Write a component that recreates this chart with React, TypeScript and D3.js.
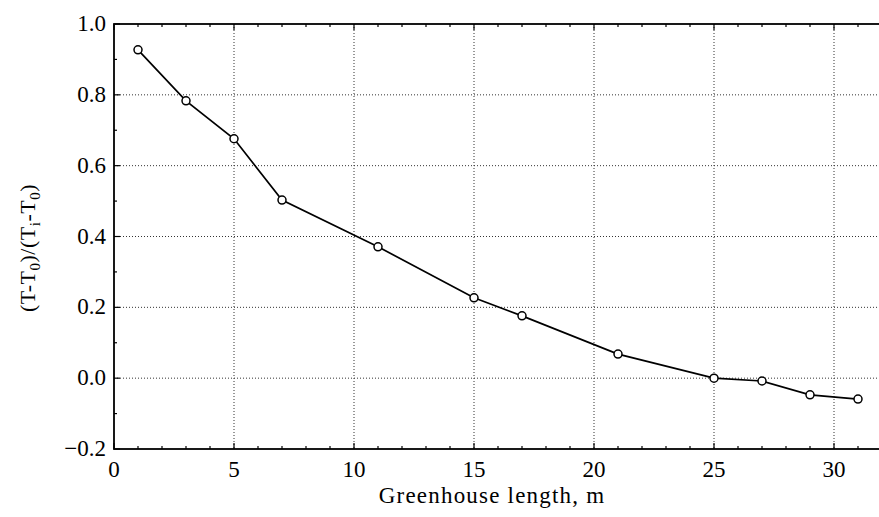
import React, { useRef, useEffect } from 'react';
import * as d3 from 'd3';

const lengths = [1, 3, 5, 7, 11, 15, 17, 21, 25, 27, 29, 31];
const ratios = [0.927, 0.783, 0.676, 0.503, 0.371, 0.227, 0.176, 0.068, 0.0, -0.008, -0.047, -0.059];
const xTicks = [0, 5, 10, 15, 20, 25, 30];
const yTicks = [-0.2, 0.0, 0.2, 0.4, 0.6, 0.8, 1.0];

const App = () => {
  const svgRef = useRef<SVGSVGElement>(null);

  useEffect(() => {
    const svg = d3.select(svgRef.current);
    svg.selectAll('*').remove();
    const width = 879;
    const height = 517;
    const margin = { top: 24, right: -15, bottom: 68, left: 114 };
    const innerWidth = width - margin.left - margin.right;
    const innerHeight = height - margin.top - margin.bottom;
    const font = '"Liberation Serif", "Times New Roman", "DejaVu Serif", serif';

    const x = d3.scaleLinear().domain([0, 32.5]).range([0, innerWidth]);
    const y = d3.scaleLinear().domain([-0.2, 1.0]).range([innerHeight, 0]);

    const g = svg.append('g').attr('transform', `translate(${margin.left},${margin.top})`);

    // dotted grid
    g.selectAll('.vgrid')
      .data(xTicks.filter(d => d > 0))
      .enter().append('line')
      .attr('x1', d => x(d)).attr('x2', d => x(d))
      .attr('y1', 0).attr('y2', innerHeight)
      .attr('stroke', '#333').attr('stroke-width', 1)
      .attr('stroke-dasharray', '1,2');
    g.selectAll('.hgrid')
      .data(yTicks.filter(d => d > -0.2 && d < 1.0))
      .enter().append('line')
      .attr('x1', 0).attr('x2', innerWidth)
      .attr('y1', d => y(d)).attr('y2', d => y(d))
      .attr('stroke', '#333').attr('stroke-width', 1)
      .attr('stroke-dasharray', '1,2');

    // frame
    g.append('rect')
      .attr('width', innerWidth).attr('height', innerHeight)
      .attr('fill', 'none').attr('stroke', '#000').attr('stroke-width', 1.8);

    // minor and major ticks, pointing inward
    const xMinor = d3.range(0, 33, 1);
    const yMinor = d3.range(-0.2, 1.0001, 0.1);
    [0, innerHeight].forEach(yy => {
      const dir = yy === 0 ? 1 : -1;
      g.selectAll(null).data(xMinor).enter().append('line')
        .attr('x1', d => x(d)).attr('x2', d => x(d))
        .attr('y1', yy).attr('y2', d => yy + dir * (d % 5 === 0 ? 6 : 3))
        .attr('stroke', '#000').attr('stroke-width', 1.2);
    });
    g.selectAll(null).data(yMinor).enter().append('line')
      .attr('x1', 0).attr('x2', (d, i) => (i % 2 === 0 ? 6 : 3))
      .attr('y1', d => y(d)).attr('y2', d => y(d))
      .attr('stroke', '#000').attr('stroke-width', 1.2);

    // tick labels
    g.selectAll('.xl').data(xTicks).enter().append('text')
      .attr('x', d => x(d)).attr('y', innerHeight + 28)
      .attr('text-anchor', 'middle')
      .attr('font-family', font).attr('font-size', 23)
      .text(d => d3.format('d')(d));
    g.selectAll('.yl').data(yTicks).enter().append('text')
      .attr('x', -8).attr('y', d => y(d) + 7)
      .attr('text-anchor', 'end')
      .attr('font-family', font).attr('font-size', 23)
      .text(d => (d < 0 ? '\u22120.2' : d3.format('.1f')(d)));

    // line and markers
    const pts = lengths.map((l, i) => [l, ratios[i]] as [number, number]);
    const line = d3.line<[number, number]>().x(d => x(d[0])).y(d => y(d[1]));
    g.append('path').datum(pts)
      .attr('d', line).attr('fill', 'none')
      .attr('stroke', '#000').attr('stroke-width', 1.7);
    g.selectAll('.pt').data(pts).enter().append('circle')
      .attr('cx', d => x(d[0])).attr('cy', d => y(d[1])).attr('r', 4)
      .attr('fill', '#fff').attr('stroke', '#000').attr('stroke-width', 1.5);

    // axis titles
    svg.append('text')
      .attr('x', 492).attr('y', 503)
      .attr('text-anchor', 'middle')
      .attr('font-family', font).attr('font-size', 23)
      .attr('letter-spacing', 1.2)
      .text('Greenhouse length, m');

    const yl = svg.append('text')
      .attr('transform', 'translate(35,248) rotate(-90)')
      .attr('text-anchor', 'middle')
      .attr('font-family', font).attr('font-size', 22)
      .attr('letter-spacing', 0.5);
    yl.append('tspan').text('(T-T');
    yl.append('tspan').attr('font-size', 15).attr('dy', 5).text('0');
    yl.append('tspan').attr('dy', -5).text(')/(T');
    yl.append('tspan').attr('font-size', 15).attr('dy', 5).text('i');
    yl.append('tspan').attr('dy', -5).text('-T');
    yl.append('tspan').attr('font-size', 15).attr('dy', 5).text('0');
    yl.append('tspan').attr('dy', -5).text(')');
  }, []);

  return (
    <svg ref={svgRef} width={879} height={517}
      style={{ position: 'absolute', left: 0, top: 0, background: '#fff' }} />
  );
};

export default App;
